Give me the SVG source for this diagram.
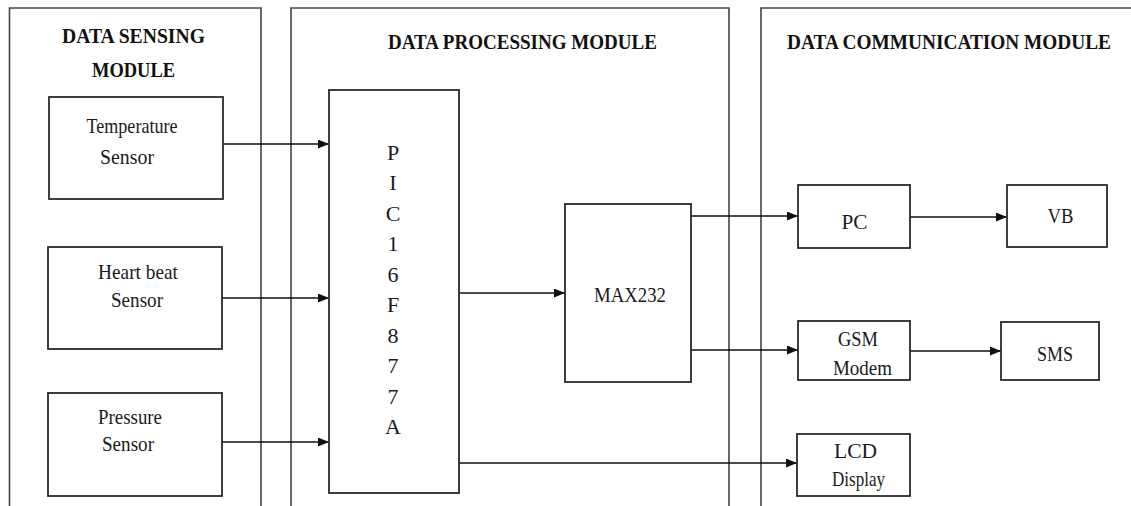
<svg xmlns="http://www.w3.org/2000/svg" width="1131" height="506" viewBox="0 0 1131 506">
<defs>
<marker id="arr" viewBox="0 0 11 9" refX="11" refY="4.5" markerWidth="11" markerHeight="9" markerUnits="userSpaceOnUse" orient="auto">
<path d="M0,0 L11,4.5 L0,9 Z" fill="#111"/>
</marker>
</defs>
<style>
.mod{fill:none;stroke:#444;stroke-width:1.6}
.box{fill:#fff;stroke:#2a2a2a;stroke-width:1.8}
.t{font-family:"Liberation Serif","Times New Roman",serif;font-size:22px;fill:#1a1a1a;text-anchor:middle}
.h{font-family:"Liberation Serif","Times New Roman",serif;font-size:22px;font-weight:bold;fill:#111;text-anchor:middle}
.hs{font-size:20px}
.c{fill:none;stroke:#111;stroke-width:1.5}
</style>
<rect width="1131" height="506" fill="#fff"/>
<g id="sensing-module">
<path class="mod" d="M9.5,506 V8 H261 V506"/>
<text class="h" x="133.5" y="43" textLength="143" lengthAdjust="spacingAndGlyphs">DATA SENSING</text>
<text class="h" x="133.5" y="77" textLength="83" lengthAdjust="spacingAndGlyphs">MODULE</text>
</g>
<g id="processing-module">
<path class="mod" d="M291,506 V8 H729 V506"/>
<text class="h" x="522.5" y="49" textLength="269" lengthAdjust="spacingAndGlyphs">DATA PROCESSING MODULE</text>
</g>
<g id="communication-module">
<path class="mod" d="M761,506 V8 H1131"/>
<text class="h hs" x="949" y="48.5" textLength="324" lengthAdjust="spacingAndGlyphs">DATA COMMUNICATION MODULE</text>
</g>
<g id="connectors">
<line class="c" x1="223" y1="144" x2="329" y2="144" marker-end="url(#arr)"/>
<line class="c" x1="222" y1="298" x2="329" y2="298" marker-end="url(#arr)"/>
<line class="c" x1="222" y1="442" x2="329" y2="442" marker-end="url(#arr)"/>
<line class="c" x1="459" y1="293" x2="565" y2="293" marker-end="url(#arr)"/>
<line class="c" x1="691" y1="216" x2="798" y2="216" marker-end="url(#arr)"/>
<line class="c" x1="691" y1="350" x2="798" y2="350" marker-end="url(#arr)"/>
<line class="c" x1="459" y1="463" x2="797" y2="463" marker-end="url(#arr)"/>
<line class="c" x1="910" y1="217" x2="1007" y2="217" marker-end="url(#arr)"/>
<line class="c" x1="910" y1="351" x2="1001" y2="351" marker-end="url(#arr)"/>
</g>
<g id="temperature-sensor">
<rect class="box" x="49" y="97" width="174" height="102"/>
<text class="t" x="132" y="133" textLength="91" lengthAdjust="spacingAndGlyphs">Temperature</text>
<text class="t" x="127" y="164" textLength="54" lengthAdjust="spacingAndGlyphs">Sensor</text>
</g>
<g id="heartbeat-sensor">
<rect class="box" x="48" y="247" width="174" height="102"/>
<text class="t" x="138" y="279" textLength="80" lengthAdjust="spacingAndGlyphs">Heart beat</text>
<text class="t" x="137" y="307" textLength="52" lengthAdjust="spacingAndGlyphs">Sensor</text>
</g>
<g id="pressure-sensor">
<rect class="box" x="48" y="393" width="174" height="103"/>
<text class="t" x="130" y="424" textLength="64" lengthAdjust="spacingAndGlyphs">Pressure</text>
<text class="t" x="128" y="451" textLength="52" lengthAdjust="spacingAndGlyphs">Sensor</text>
</g>
<g id="pic16f877a">
<rect class="box" x="329" y="90" width="130" height="403"/>
<text class="t" x="393" y="159.5">P</text>
<text class="t" x="393" y="190">I</text>
<text class="t" x="393" y="220.5">C</text>
<text class="t" x="393" y="251">1</text>
<text class="t" x="393" y="281.5">6</text>
<text class="t" x="393" y="312">F</text>
<text class="t" x="393" y="342.5">8</text>
<text class="t" x="393" y="373">7</text>
<text class="t" x="393" y="403.5">7</text>
<text class="t" x="393" y="434">A</text>
</g>
<g id="max232">
<rect class="box" x="565" y="204" width="126" height="178"/>
<text class="t" x="630" y="301.5" textLength="72" lengthAdjust="spacingAndGlyphs">MAX232</text>
</g>
<g id="pc">
<rect class="box" x="798" y="185" width="112" height="63"/>
<text class="t" x="854.5" y="229" textLength="26" lengthAdjust="spacingAndGlyphs">PC</text>
</g>
<g id="vb">
<rect class="box" x="1007" y="185" width="100" height="62"/>
<text class="t" x="1060.5" y="223" textLength="26" lengthAdjust="spacingAndGlyphs">VB</text>
</g>
<g id="gsm-modem">
<rect class="box" x="798" y="321" width="112" height="59"/>
<text class="t" x="858" y="346" textLength="40" lengthAdjust="spacingAndGlyphs">GSM</text>
<text class="t" x="862.5" y="375" textLength="59" lengthAdjust="spacingAndGlyphs">Modem</text>
</g>
<g id="sms">
<rect class="box" x="1001" y="322" width="98" height="58"/>
<text class="t" x="1055" y="361" textLength="36" lengthAdjust="spacingAndGlyphs">SMS</text>
</g>
<g id="lcd-display">
<rect class="box" x="797" y="434" width="113" height="62"/>
<text class="t" x="855.5" y="458" textLength="43" lengthAdjust="spacingAndGlyphs">LCD</text>
<text class="t" x="858.5" y="486" textLength="53" lengthAdjust="spacingAndGlyphs">Display</text>
</g>
</svg>
